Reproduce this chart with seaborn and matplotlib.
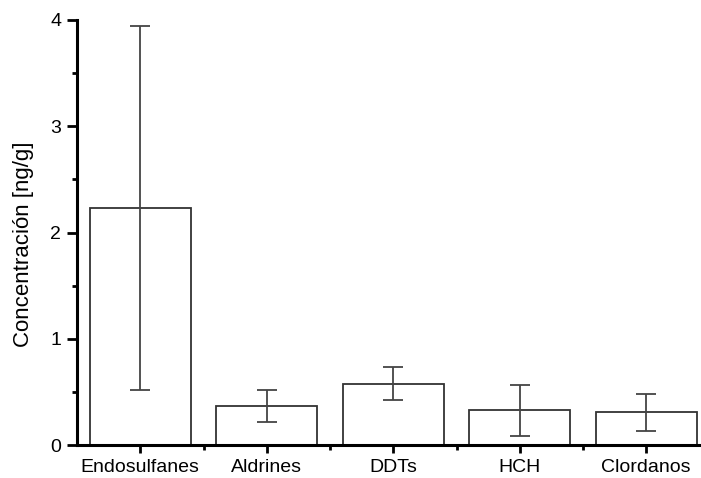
import numpy as np
import matplotlib
matplotlib.use("Agg")
import matplotlib.pyplot as plt
import seaborn as sns
from matplotlib.ticker import MultipleLocator, FixedLocator

# data
categorias = ["Endosulfanes", "Aldrines", "DDTs", "HCH", "Clordanos"]
media = [2.23, 0.367, 0.575, 0.326, 0.307]
desv = [1.71, 0.152, 0.155, 0.238, 0.175]

sns.set_style("ticks")
plt.rcParams["font.family"] = ["Liberation Sans", "DejaVu Sans"]

fig = plt.figure(figsize=(7.01, 4.78), dpi=100)
ax = fig.add_axes([77 / 701, 33 / 478, 632.5 / 701, 425 / 478])

sns.barplot(x=categorias, y=media, color="white", edgecolor="#333333",
            linewidth=1.3, width=0.8, errorbar=None, saturation=1, ax=ax)
ax.errorbar(np.arange(len(categorias)), media, yerr=desv, fmt="none",
            ecolor="#444444", elinewidth=1.3, capsize=7, capthick=1.3)

ax.set_xlim(-0.5, 4.5)
ax.set_ylim(0, 4)
ax.yaxis.set_major_locator(MultipleLocator(1))
ax.yaxis.set_minor_locator(MultipleLocator(0.5))
ax.xaxis.set_minor_locator(FixedLocator(np.arange(0.5, 4.5, 1)))

ax.set_ylabel("Concentración [ng/g]", fontsize=16, color="black")
ax.yaxis.set_label_coords(-0.068, 0.472)
ax.set_xlabel("")
ax.tick_params(axis="x", which="major", labelsize=14, length=6,
               width=2, color="black", labelcolor="black", pad=4)
ax.tick_params(axis="y", which="major", labelsize=14, length=7.5,
               width=2, color="black", labelcolor="black", pad=4)
ax.tick_params(axis="both", which="minor", length=3.5, width=2, color="black")

sns.despine(ax=ax)
for s in ["left", "bottom"]:
    ax.spines[s].set_linewidth(2.2)
    ax.spines[s].set_color("black")

fig.savefig("out.png", dpi=100)
